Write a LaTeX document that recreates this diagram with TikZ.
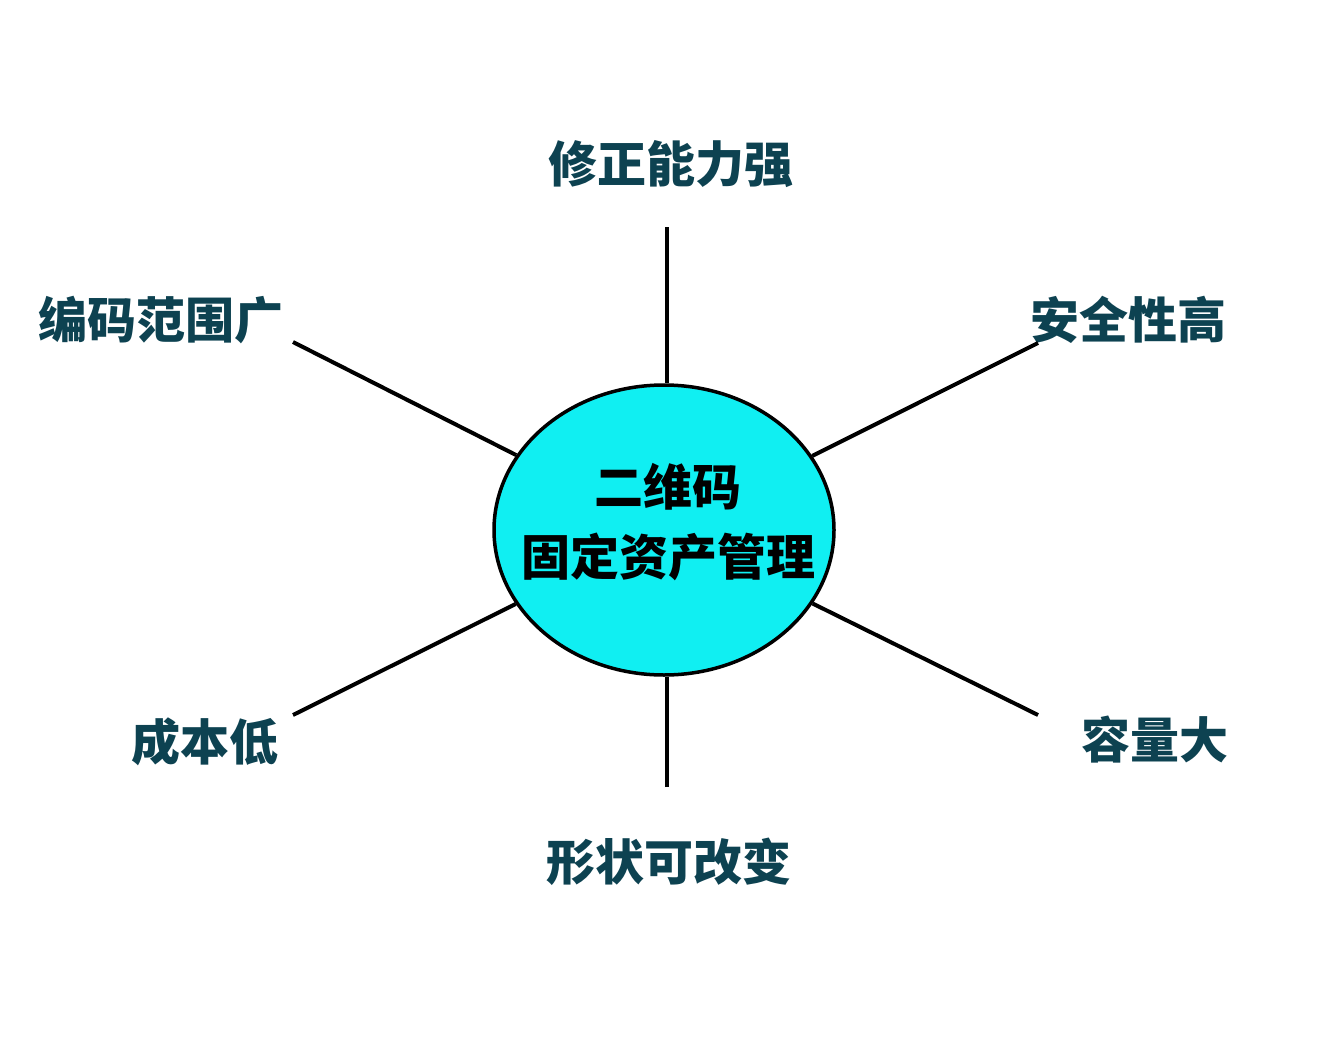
\documentclass[tikz,border=0pt]{standalone}
\usepackage{fontspec}
\newfontfamily\cjk{Noto Sans CJK SC}
\usetikzlibrary{shapes.geometric}
\definecolor{tealtext}{HTML}{0D4251}
\definecolor{qrcyan}{HTML}{10EFF2}

\begin{document}
\begin{tikzpicture}[x=1pt, y=-1pt,
    feature/.style={font=\cjk\bfseries\fontsize{49}{56}\selectfont, text=tealtext, inner sep=0pt},
    title/.style={font=\cjk\bfseries\fontsize{49}{56}\selectfont, inner sep=0pt},
    spoke/.style={line width=4pt}]
    \useasboundingbox (0,0) rectangle (1336,1041);

    % Center ellipse
    \node[ellipse, draw, line width=3.5pt, fill=qrcyan, minimum width=340, minimum height=290,
          inner sep=0pt] (qr) at (664,530) {};
    \node[title] (qrtitle) at (668,487) {二维码};
    \node[title] (qrsub) at (668,557) {固定资产管理};

    % Feature labels
    \node[feature] (top) at (671,164) {修正能力强};
    \node[feature] (ul) at (161,320) {编码范围广};
    \node[feature] (ur) at (1128,320) {安全性高};
    \node[feature] (ll) at (205,742) {成本低};
    \node[feature] (lr) at (1155,740) {容量大};
    \node[feature] (bot) at (669,862) {形状可改变};

    % Spoke ends
    \coordinate (topend) at (667,227);
    \coordinate (ulend) at (293,342);
    \coordinate (urend) at (1038,343);
    \coordinate (llend) at (293,715);
    \coordinate (lrend) at (1038,715);
    \coordinate (botend) at (667,787);

    % Spokes
    \draw[spoke] (topend) -- (qr.north -| topend);
    \draw[spoke] (ulend) -- (qr);
    \draw[spoke] (urend) -- (qr);
    \draw[spoke] (llend) -- (qr);
    \draw[spoke] (lrend) -- (qr);
    \draw[spoke] (botend) -- (qr.south -| botend);
\end{tikzpicture}
\end{document}
